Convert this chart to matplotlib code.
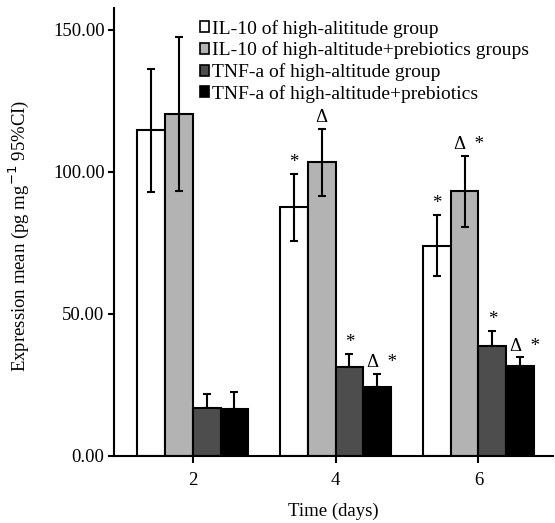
import matplotlib
matplotlib.use("Agg")
from matplotlib import pyplot as plt
from matplotlib.patches import Patch
import numpy as np

plt.rcParams['font.family'] = ['Liberation Serif', 'DejaVu Serif']
plt.rcParams['font.size'] = 13.5

days = ['2', '4', '6']
series_names = ["IL-10 of high-alititude group",
                "IL-10 of high-altitude+prebiotics groups",
                "TNF-a of high-altitude group",
                "TNF-a of high-altitude+prebiotics"]
il10_high = [114.6, 87.5, 74.0]
il10_high_err = [21.8, 11.9, 10.7]
il10_pre = [120.4, 103.4, 93.1]
il10_pre_err = [27.0, 11.8, 12.6]
tnf_high = [16.9, 31.1, 38.6]
tnf_high_err = [4.8, 4.7, 5.4]
tnf_pre = [16.4, 24.3, 31.7]
tnf_pre_err = [5.9, 4.4, 2.9]
marks_il10_high = ['', '*', '*']
marks_il10_pre = ['', 'Δ', 'Δ  *']
marks_tnf_high = ['', '*', '*']
marks_tnf_pre = ['', 'Δ  *', 'Δ  *']

values = [il10_high, il10_pre, tnf_high, tnf_pre]
errors = [il10_high_err, il10_pre_err, tnf_high_err, tnf_pre_err]
marks = [marks_il10_high, marks_il10_pre, marks_tnf_high, marks_tnf_pre]
colors = ['white', '#b3b3b3', '#4d4d4d', 'black']
two_sided = [True, True, False, False]

fig = plt.figure(figsize=(5.55, 5.23), dpi=100)
ax = fig.add_axes([0.206, 0.129, 0.79, 0.856])

x = np.arange(len(days))
w = 0.195
for i in range(4):
    pos = x + (i - 1.5) * w
    ax.bar(pos, values[i], width=w, color=colors[i], edgecolor='black', linewidth=1.5, zorder=2)
    if two_sided[i]:
        ax.errorbar(pos, values[i], yerr=errors[i], fmt='none', ecolor='black',
                    elinewidth=1.5, capsize=2.8, capthick=1.5, zorder=3)
    else:
        # only the upper whisker shows above the dark bars
        ax.errorbar(pos, values[i], yerr=[np.zeros(3), errors[i]], fmt='none', ecolor='black',
                    elinewidth=1.5, capsize=2.8, capthick=1.5, zorder=1)
    for j in range(3):
        if marks[i][j]:
            ax.text(pos[j] + (0.03 if '  ' in marks[i][j] else 0), values[i][j] + errors[i][j] + 4.0,
                    marks[i][j], ha='center', va='center', fontsize=13.5)

ax.set_xlim(-0.548, 2.52)
ax.set_ylim(0, 157.8)
ax.set_xticks(x)
ax.set_xticklabels(days)
ax.set_yticks([0, 50, 100, 150])
ax.set_yticklabels(['0.00', '50.00', '100.00', '150.00'])
ax.spines['top'].set_visible(False)
ax.spines['right'].set_visible(False)
ax.spines['left'].set_linewidth(1.5)
ax.spines['bottom'].set_linewidth(1.5)
ax.tick_params(axis='x', direction='out', length=5, width=1.5, pad=7)
ax.tick_params(axis='y', direction='out', length=4, width=1.5, pad=3)
ax.set_xlabel('Time (days)', labelpad=10)
ax.set_ylabel('Expression mean (pg mg$^{-1}$ 95%CI)', labelpad=13)
ax.yaxis.set_label_coords(-0.19, 0.49)

handles = [Patch(facecolor=c, edgecolor='black', linewidth=1.2) for c in colors]
ax.legend(handles, series_names, loc='upper left', bbox_to_anchor=(0.349, 0.973),
          bbox_transform=fig.transFigure, frameon=False, fontsize=14,
          handlelength=0.5, handleheight=0.5, handletextpad=0.15, labelspacing=0.19,
          borderaxespad=0, borderpad=0.3)

fig.savefig('out.png', dpi=100)
